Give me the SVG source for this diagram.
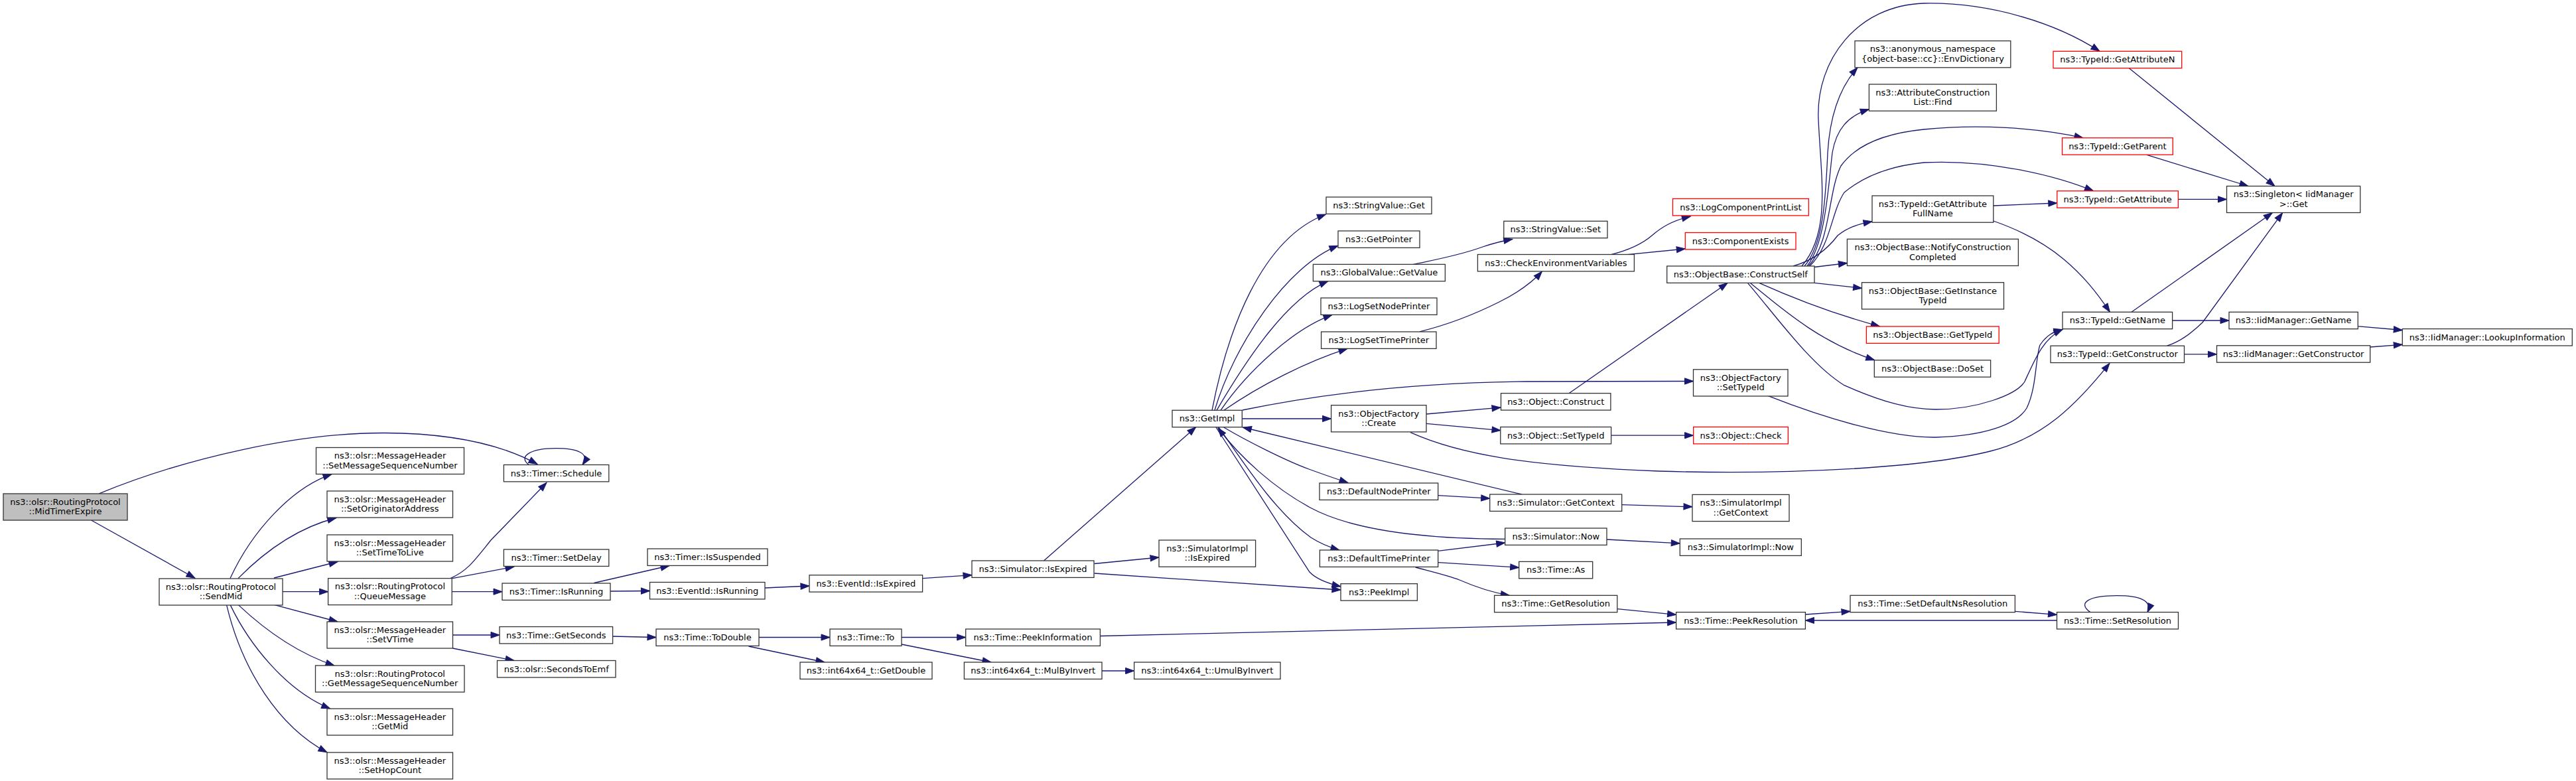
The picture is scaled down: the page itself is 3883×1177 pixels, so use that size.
<svg xmlns="http://www.w3.org/2000/svg" width="3883" height="1177" viewBox="0 0 3883 1177">
<defs>
<style>
.node rect{fill:#fff;stroke:#333;stroke-width:1.3}
.node.red rect{stroke:#ff0000}
.node.root rect{fill:#bfbfbf}
.node text{font-family:"DejaVu Sans","Liberation Sans",sans-serif;font-size:13px;text-anchor:middle;fill:#000}
.edges path{fill:none;stroke:#191970;stroke-width:1.3;marker-end:url(#ah)}
</style>
<marker id="ah" markerUnits="userSpaceOnUse" markerWidth="16" markerHeight="12" refX="13" refY="4.6" orient="auto" overflow="visible"><path d="M0,0 L13,4.6 L0,9.2 z" fill="#191970" stroke="#191970" stroke-width="1"/></marker>
</defs>
<rect width="3883" height="1177" fill="#fff"/>
<g id="connectors" class="edges">
<path d="M137.5,784 L294,871.3"/>
<path d="M149.5,743.8 C280,690 450,652 580,652.5 C690,653 760,672 810,699.5"/>
<path d="M347,871.6 C380,800 440,735 500,714.7"/>
<path d="M359,871.6 C400,830 450,795 506.7,780.5"/>
<path d="M413,871 L509,846.5"/>
<path d="M426,891.7 L494.6,891.7"/>
<path d="M413,911.4 L509,937"/>
<path d="M359,911.4 C400,950 450,985 504,1003"/>
<path d="M347,911.4 C375,970 430,1040 497.7,1068"/>
<path d="M341.5,911.4 C365,1010 420,1095 493,1133.8"/>
<path d="M679,871.6 C705,860 715,845 740,814 L824,727.3"/>
<path d="M682,871.6 L775,854"/>
<path d="M681,891.7 L757,891.7"/>
<path d="M895.5,878.5 L1009,852.5"/>
<path d="M920,891 L979.5,890.5"/>
<path d="M682.5,957 L753,957"/>
<path d="M682.6,977 L775,995.5"/>
<path d="M923.6,959 L989,960.5"/>
<path d="M1153,886 L1220,883"/>
<path d="M1390.6,871.7 L1465,866.7"/>
<path d="M1573.5,845 L1802.6,643.7"/>
<path d="M1143.8,960.5 L1251,960.5"/>
<path d="M1128.5,974 L1243,998"/>
<path d="M1359,960.5 L1455.7,960.5"/>
<path d="M1359,971 L1494,998"/>
<path d="M1649.6,849.5 L1747,840"/>
<path d="M1649.6,864 L2021,889"/>
<path d="M1661,1011 L1709.6,1011"/>
<path d="M1658.4,958.5 L2526.6,938"/>
<path d="M1872.3,631 L2006.6,631"/>
<path d="M1844.7,644 C1880,665 1940,695 1973,707 C1995,715 2015,722 2032,727.5"/>
<path d="M1837,644 C1870,690 1920,770 1976,810 C1990,819 2005,825 2019,829"/>
<path d="M1833,644 L1974,862 C1985,874 2005,880 2021,884"/>
<path d="M2294,745 L1873.4,644"/>
<path d="M2268.7,812.4 C2150,812 2040,800 1975,765 C1920,735 1870,690 1836,645"/>
<path d="M1827,618.3 C1850,500 1900,360 1998.5,323"/>
<path d="M1831,618.3 C1860,520 1940,400 2017,370.4"/>
<path d="M1834,618.3 C1880,540 1940,450 2002,423.6"/>
<path d="M1840,618.3 C1880,560 1950,495 2008,474.6"/>
<path d="M1845,618.3 C1900,580 1970,545 2031,525.4"/>
<path d="M1873,618 C1960,600 2100,577 2300,575 L2552.5,574.5"/>
<path d="M2149.8,624 L2262,614.2"/>
<path d="M2149.8,638.3 L2262,648.7"/>
<path d="M2126,651.7 C2200,685 2300,702 2500,710 C2700,716 2900,705 3000,680 C3080,660 3130,610 3180,547.4"/>
<path d="M2428.6,656.2 L2552.6,656.2"/>
<path d="M2365,592.7 L2604,426.5"/>
<path d="M2167.7,746.6 L2245.7,751.2"/>
<path d="M2444.7,760.7 L2551,763.8"/>
<path d="M2422,813 L2532.3,818.9"/>
<path d="M2167.5,830.4 L2268.7,818"/>
<path d="M2167.5,847.7 L2289.7,855.3"/>
<path d="M2133.7,855 C2160,862 2185,868 2200,874 C2225,885 2250,893 2275.3,897.3"/>
<path d="M2437.8,917.6 L2526.6,926.4"/>
<path d="M2721.4,926 L2789,921.4"/>
<path d="M3100.5,935 L2721.4,935"/>
<path d="M3037.4,921.4 L3100.5,926.4"/>
<path d="M3151,922.6 C3130,908 3150,897.7 3191,897.7 C3225,897.7 3245,905 3237,922.6"/>
<path d="M797.3,700.5 C780,688 800,675.7 837.5,675.7 C870,675.7 890,683 878,700.5"/>
<path d="M2130.5,398.4 C2160,392 2200,385 2235,372 C2250,367 2265,363 2279.8,360.5"/>
<path d="M2140,499.8 C2180,490 2220,475 2260,455 C2290,440 2310,425 2324.4,409"/>
<path d="M2427.8,383.8 C2455,377 2475,368 2490,355 C2505,342 2520,333 2548.3,326"/>
<path d="M2450.7,383.8 L2540.3,375"/>
<path d="M2720,401 C2748,370 2752,300 2755,230 C2758,180 2770,135 2800,101.8"/>
<path d="M2724,401 C2752,365 2756,280 2762,230 C2768,195 2785,175 2817.4,164.6"/>
<path d="M2716,401 C2760,350 2745,270 2741,180 C2737,90 2800,8 2900,5 C3000,3 3100,35 3165,77.3"/>
<path d="M2726,401 C2760,365 2755,290 2775,250 C2800,215 2850,200 2900,195 C2980,187 3070,192 3140,207.8"/>
<path d="M2728,401 C2760,370 2760,320 2780,290 C2810,265 2850,250 2900,245 C3000,240 3100,265 3155.5,287.8"/>
<path d="M2703,401 C2735,392 2755,375 2770,355 C2785,343 2800,338 2822,333.7"/>
<path d="M2735,402.5 L2784.4,396.5"/>
<path d="M2735,426.3 L2806.6,434.4"/>
<path d="M2651.6,426.3 C2700,448 2760,472 2833.4,491.8"/>
<path d="M2638,426.3 C2680,460 2740,515 2825.8,542.7"/>
<path d="M2634.4,426.3 C2680,480 2730,550 2780,580.7 C2840,607 2880,617 2918,617 C2980,617 3040,595 3052,575 C3068,540 3080,510 3109,496.5"/>
<path d="M2665.3,596.7 C2750,630 2850,660 2918,659 C2990,657 3040,640 3055,615 C3070,585 3068,540 3075,520 C3085,505 3095,500 3109,496.5"/>
<path d="M3004.8,310 L3100.8,306"/>
<path d="M3004.8,333 C3045,347 3080,365 3110,390 C3140,415 3160,440 3180.4,470.3"/>
<path d="M3209,102.6 L3429,280.5"/>
<path d="M3236,233.4 L3389,280.5"/>
<path d="M3283.4,300.4 L3356.5,300.4"/>
<path d="M3213,470.3 L3425.3,320.7"/>
<path d="M3266.5,521.2 C3285,515 3300,505 3320,486 L3440.6,320.7"/>
<path d="M3274.6,483 L3360,483"/>
<path d="M3292.5,533.9 L3341.5,533.9"/>
<path d="M3554.3,491.8 L3621.3,497.5"/>
<path d="M3572.7,523 L3621.3,519.3"/>
</g>
<g id="n1" class="node root"><rect x="5" y="744" width="187" height="40"/><text x="98.5" y="760.8">ns3::olsr::RoutingProtocol</text><text x="98.5" y="775.4">::MidTimerExpire</text></g>
<g id="n2" class="node"><rect x="240" y="872" width="186" height="40"/><text x="333" y="888.8">ns3::olsr::RoutingProtocol</text><text x="333" y="903.4">::SendMid</text></g>
<g id="n3" class="node"><rect x="476.5" y="674.5" width="223" height="40"/><text x="588" y="691.3">ns3::olsr::MessageHeader</text><text x="588" y="705.9">::SetMessageSequenceNumber</text></g>
<g id="n4" class="node"><rect x="493" y="740" width="189.5" height="40"/><text x="587.75" y="756.8">ns3::olsr::MessageHeader</text><text x="587.75" y="771.4">::SetOriginatorAddress</text></g>
<g id="n5" class="node"><rect x="493" y="806" width="189.5" height="40"/><text x="587.75" y="822.8">ns3::olsr::MessageHeader</text><text x="587.75" y="837.4">::SetTimeToLive</text></g>
<g id="n6" class="node"><rect x="494.6" y="871.6" width="186.6" height="40"/><text x="587.9" y="888.4">ns3::olsr::RoutingProtocol</text><text x="587.9" y="903">::QueueMessage</text></g>
<g id="n7" class="node"><rect x="493" y="937" width="189.5" height="40"/><text x="587.75" y="953.8">ns3::olsr::MessageHeader</text><text x="587.75" y="968.4">::SetVTime</text></g>
<g id="n8" class="node"><rect x="475.5" y="1003" width="224.5" height="40"/><text x="587.75" y="1019.8">ns3::olsr::RoutingProtocol</text><text x="587.75" y="1034.4">::GetMessageSequenceNumber</text></g>
<g id="n9" class="node"><rect x="493" y="1068" width="189.5" height="40"/><text x="587.75" y="1084.8">ns3::olsr::MessageHeader</text><text x="587.75" y="1099.4">::GetMid</text></g>
<g id="n10" class="node"><rect x="493" y="1134" width="189.5" height="40"/><text x="587.75" y="1150.8">ns3::olsr::MessageHeader</text><text x="587.75" y="1165.4">::SetHopCount</text></g>
<g id="n11" class="node"><rect x="759.4" y="700.5" width="158.4" height="25.4"/><text x="838.6" y="717.5">ns3::Timer::Schedule</text></g>
<g id="n12" class="node"><rect x="759.4" y="828" width="158.4" height="25.4"/><text x="838.6" y="845">ns3::Timer::SetDelay</text></g>
<g id="n13" class="node"><rect x="757" y="879" width="163" height="25.4"/><text x="838.5" y="896">ns3::Timer::IsRunning</text></g>
<g id="n14" class="node"><rect x="753" y="944.5" width="170.6" height="25.4"/><text x="838.3" y="961.5">ns3::Time::GetSeconds</text></g>
<g id="n15" class="node"><rect x="749.5" y="995.5" width="178.5" height="25.4"/><text x="838.75" y="1012.5">ns3::olsr::SecondsToEmf</text></g>
<g id="n16" class="node"><rect x="976" y="827" width="181" height="25.4"/><text x="1066.5" y="844">ns3::Timer::IsSuspended</text></g>
<g id="n17" class="node"><rect x="979.5" y="877.5" width="173.5" height="25.4"/><text x="1066.25" y="894.5">ns3::EventId::IsRunning</text></g>
<g id="n18" class="node"><rect x="989" y="948" width="155" height="25.4"/><text x="1066.5" y="965">ns3::Time::ToDouble</text></g>
<g id="n19" class="node"><rect x="1220" y="866.7" width="170.6" height="25.4"/><text x="1305.3" y="883.7">ns3::EventId::IsExpired</text></g>
<g id="n20" class="node"><rect x="1465" y="845" width="184" height="25.4"/><text x="1557" y="862">ns3::Simulator::IsExpired</text></g>
<g id="n21" class="node"><rect x="1251" y="948" width="108" height="25.4"/><text x="1305" y="965">ns3::Time::To</text></g>
<g id="n22" class="node"><rect x="1206" y="998" width="199" height="25.4"/><text x="1305.5" y="1015">ns3::int64x64_t::GetDouble</text></g>
<g id="n23" class="node"><rect x="1455.7" y="948" width="202.7" height="25.4"/><text x="1557" y="965">ns3::Time::PeekInformation</text></g>
<g id="n24" class="node"><rect x="1453.4" y="998" width="207.6" height="25.4"/><text x="1557.2" y="1015">ns3::int64x64_t::MulByInvert</text></g>
<g id="n25" class="node"><rect x="1709.6" y="998" width="220.4" height="25.4"/><text x="1819.8" y="1015">ns3::int64x64_t::UmulByInvert</text></g>
<g id="n26" class="node"><rect x="1767" y="618.3" width="105.3" height="25.4"/><text x="1819.65" y="635.3">ns3::GetImpl</text></g>
<g id="n27" class="node"><rect x="1747" y="814" width="145.6" height="40.2"/><text x="1819.8" y="830.8">ns3::SimulatorImpl</text><text x="1819.8" y="845.4">::IsExpired</text></g>
<g id="n28" class="node"><rect x="1999" y="297" width="159" height="25.4"/><text x="2078.5" y="314">ns3::StringValue::Get</text></g>
<g id="n29" class="node"><rect x="2017" y="348" width="123" height="25.4"/><text x="2078.5" y="365">ns3::GetPointer</text></g>
<g id="n30" class="node"><rect x="1979.4" y="398.4" width="199" height="25.4"/><text x="2078.9" y="415.4">ns3::GlobalValue::GetValue</text></g>
<g id="n31" class="node"><rect x="1991" y="449" width="175" height="25.4"/><text x="2078.5" y="466">ns3::LogSetNodePrinter</text></g>
<g id="n32" class="node"><rect x="1991.6" y="500" width="173.4" height="25.4"/><text x="2078.3" y="517">ns3::LogSetTimePrinter</text></g>
<g id="n33" class="node"><rect x="2006.6" y="610.7" width="143.4" height="40.2"/><text x="2078.3" y="627.5">ns3::ObjectFactory</text><text x="2078.3" y="642.1">::Create</text></g>
<g id="n34" class="node"><rect x="1989" y="728" width="178.7" height="25.4"/><text x="2078.35" y="745">ns3::DefaultNodePrinter</text></g>
<g id="n35" class="node"><rect x="1989.4" y="829" width="178.3" height="25.4"/><text x="2078.55" y="846">ns3::DefaultTimePrinter</text></g>
<g id="n36" class="node"><rect x="2021" y="879.7" width="115.4" height="25.4"/><text x="2078.7" y="896.7">ns3::PeekImpl</text></g>
<g id="n37" class="node"><rect x="2266.8" y="333.3" width="156.2" height="25.4"/><text x="2344.9" y="350.3">ns3::StringValue::Set</text></g>
<g id="n38" class="node"><rect x="2227.4" y="383.5" width="236" height="25.4"/><text x="2345.4" y="400.5">ns3::CheckEnvironmentVariables</text></g>
<g id="n39" class="node"><rect x="2262.5" y="592.7" width="165.4" height="25.4"/><text x="2345.2" y="609.7">ns3::Object::Construct</text></g>
<g id="n40" class="node"><rect x="2261.8" y="643.5" width="166.8" height="25.4"/><text x="2345.2" y="660.5">ns3::Object::SetTypeId</text></g>
<g id="n41" class="node"><rect x="2245.7" y="745" width="199" height="25.4"/><text x="2345.2" y="762">ns3::Simulator::GetContext</text></g>
<g id="n42" class="node"><rect x="2268.7" y="796" width="153.3" height="25.4"/><text x="2345.35" y="813">ns3::Simulator::Now</text></g>
<g id="n43" class="node"><rect x="2289.7" y="846.4" width="111" height="25.4"/><text x="2345.2" y="863.4">ns3::Time::As</text></g>
<g id="n44" class="node"><rect x="2252.6" y="897.3" width="185.2" height="25.4"/><text x="2345.2" y="914.3">ns3::Time::GetResolution</text></g>
<g id="n45" class="node red"><rect x="2521.5" y="299.5" width="204.8" height="25.4"/><text x="2623.9" y="316.5">ns3::LogComponentPrintList</text></g>
<g id="n46" class="node red"><rect x="2540.3" y="350.5" width="166.7" height="25.4"/><text x="2623.65" y="367.5">ns3::ComponentExists</text></g>
<g id="n47" class="node"><rect x="2512.7" y="401" width="222.3" height="25.4"/><text x="2623.85" y="418">ns3::ObjectBase::ConstructSelf</text></g>
<g id="n48" class="node"><rect x="2552.5" y="556.8" width="142.5" height="40.2"/><text x="2623.75" y="573.6">ns3::ObjectFactory</text><text x="2623.75" y="588.2">::SetTypeId</text></g>
<g id="n49" class="node red"><rect x="2552.6" y="643.5" width="142.8" height="25.4"/><text x="2624" y="660.5">ns3::Object::Check</text></g>
<g id="n50" class="node"><rect x="2551" y="745.4" width="146" height="40.2"/><text x="2624" y="762.2">ns3::SimulatorImpl</text><text x="2624" y="776.8">::GetContext</text></g>
<g id="n51" class="node"><rect x="2532.3" y="812" width="183" height="25.4"/><text x="2623.8" y="829">ns3::SimulatorImpl::Now</text></g>
<g id="n52" class="node"><rect x="2526.6" y="922.6" width="194.8" height="25.4"/><text x="2624" y="939.6">ns3::Time::PeekResolution</text></g>
<g id="n53" class="node"><rect x="2796" y="61.6" width="234.8" height="40.2"/><text x="2913.4" y="78.4">ns3::anonymous_namespace</text><text x="2913.4" y="93">{object-base::cc}::EnvDictionary</text></g>
<g id="n54" class="node"><rect x="2817.4" y="127" width="192" height="40.2"/><text x="2913.4" y="143.8">ns3::AttributeConstruction</text><text x="2913.4" y="158.4">List::Find</text></g>
<g id="n55" class="node"><rect x="2822" y="295" width="182.8" height="40.2"/><text x="2913.4" y="311.8">ns3::TypeId::GetAttribute</text><text x="2913.4" y="326.4">FullName</text></g>
<g id="n56" class="node"><rect x="2784.4" y="360.3" width="258" height="40.2"/><text x="2913.4" y="377.1">ns3::ObjectBase::NotifyConstruction</text><text x="2913.4" y="391.7">Completed</text></g>
<g id="n57" class="node"><rect x="2806.5" y="425.7" width="214" height="40.2"/><text x="2913.5" y="442.5">ns3::ObjectBase::GetInstance</text><text x="2913.5" y="457.1">TypeId</text></g>
<g id="n58" class="node red"><rect x="2813.4" y="492" width="199.8" height="25.4"/><text x="2913.3" y="509">ns3::ObjectBase::GetTypeId</text></g>
<g id="n59" class="node"><rect x="2825.3" y="542.8" width="175.3" height="25.4"/><text x="2913" y="559.8">ns3::ObjectBase::DoSet</text></g>
<g id="n60" class="node"><rect x="2789" y="897.3" width="248.4" height="25.4"/><text x="2913.2" y="914.3">ns3::Time::SetDefaultNsResolution</text></g>
<g id="n61" class="node red"><rect x="3095" y="77.3" width="193.7" height="25.4"/><text x="3191.85" y="94.3">ns3::TypeId::GetAttributeN</text></g>
<g id="n62" class="node red"><rect x="3108.5" y="207.8" width="166.8" height="25.4"/><text x="3191.9" y="224.8">ns3::TypeId::GetParent</text></g>
<g id="n63" class="node red"><rect x="3100.8" y="287.8" width="182.6" height="25.4"/><text x="3192.1" y="304.8">ns3::TypeId::GetAttribute</text></g>
<g id="n64" class="node"><rect x="3109" y="470.3" width="165.6" height="25.4"/><text x="3191.8" y="487.3">ns3::TypeId::GetName</text></g>
<g id="n65" class="node"><rect x="3091" y="521.2" width="201.5" height="25.4"/><text x="3191.75" y="538.2">ns3::TypeId::GetConstructor</text></g>
<g id="n66" class="node"><rect x="3100.5" y="922.6" width="183" height="25.4"/><text x="3192" y="939.6">ns3::Time::SetResolution</text></g>
<g id="n67" class="node"><rect x="3356.5" y="280.5" width="201.3" height="40"/><text x="3457.15" y="297.3">ns3::Singleton&lt; IidManager</text><text x="3457.15" y="311.9">&gt;::Get</text></g>
<g id="n68" class="node"><rect x="3360" y="470.3" width="194.3" height="25.4"/><text x="3457.15" y="487.3">ns3::IidManager::GetName</text></g>
<g id="n69" class="node"><rect x="3341.5" y="520.8" width="231.2" height="25.4"/><text x="3457.1" y="537.8">ns3::IidManager::GetConstructor</text></g>
<g id="n70" class="node"><rect x="3621.3" y="495.6" width="256" height="25.4"/><text x="3749.3" y="512.6">ns3::IidManager::LookupInformation</text></g>
</svg>
